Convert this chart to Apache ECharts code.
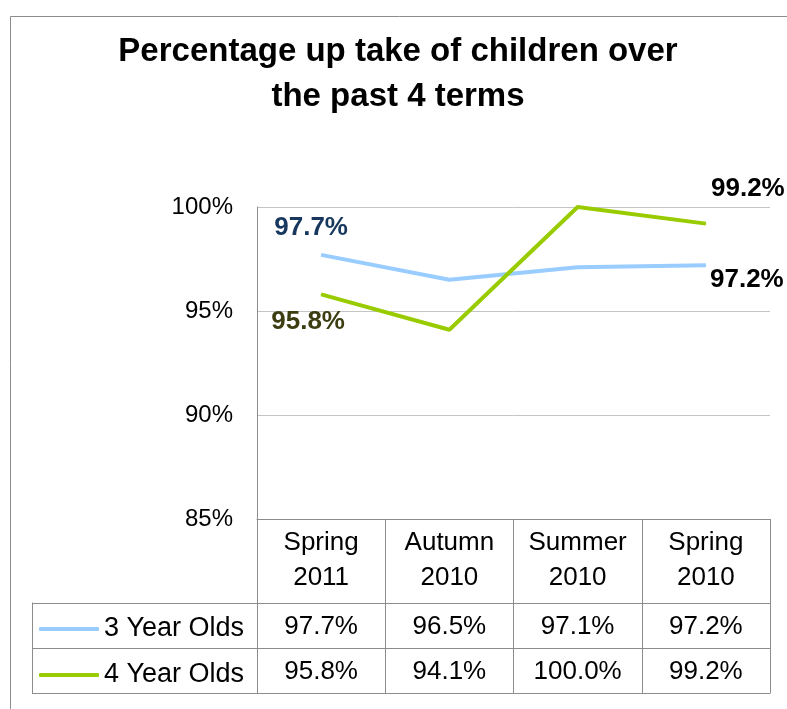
<!DOCTYPE html>
<html>
<head>
<meta charset="utf-8">
<script src="https://cdn.jsdelivr.net/npm/echarts@6/dist/echarts.min.js"></script>
<style>
  html, body { margin: 0; padding: 0; background: #fff; }
  #chart { width: 787px; height: 709px; }
</style>
</head>
<body>
<div id="chart"></div>
<script>
// terms, newest first as in the source table
const terms = ['Spring\n2011', 'Autumn\n2010', 'Summer\n2010', 'Spring\n2010']
const threeYearOlds = [97.7, 96.5, 97.1, 97.2]
const fourYearOlds = [95.8, 94.1, 100.0, 99.2]
const rowNames = ['3 Year Olds', '4 Year Olds']
const yMin = 85
const yMax = 100
const yStep = 5

const font = "'Liberation Sans', Arial, sans-serif"
const border = '#8c8c8c'
const pct = v => v.toFixed(1) + '%'

// labels only on first and last point of each line
function lineData(values, first, last) {
  return values.map((v, i) => {
    if (i === 0) return { value: v, label: Object.assign({ show: true }, first) }
    if (i === values.length - 1) return { value: v, label: Object.assign({ show: true }, last) }
    return v
  })
}

const endLabel = {
  position: 'inside',
  fontFamily: font,
  fontSize: 26,
  fontWeight: 'bold',
  formatter: p => pct(p.value)
}

const tableCells = []
threeYearOlds.forEach((v, i) => tableCells.push([terms[i], rowNames[0], v]))
fourYearOlds.forEach((v, i) => tableCells.push([terms[i], rowNames[1], v]))

const chart = echarts.init(document.getElementById('chart'), null, { renderer: 'canvas' })

chart.setOption({
  animation: false,
  title: {
    text: 'Percentage up take of children over\nthe past 4 terms',
    left: 393,
    top: 24,
    textAlign: 'center',
    textStyle: {
      fontFamily: font,
      fontSize: 33,
      fontWeight: 'bold',
      color: '#000',
      lineHeight: 45
    }
  },
  legend: {
    orient: 'vertical',
    left: 39,
    top: 614,
    padding: 0,
    itemWidth: 60,
    itemHeight: 4,
    itemGap: 16,
    icon: 'roundRect',
    selectedMode: false,
    data: rowNames,
    textStyle: { fontFamily: font, fontSize: 27, color: '#000', lineHeight: 30 }
  },
  grid: [
    { left: 257, right: 17, top: 207, height: 312 },
    { left: 257, right: 17, top: 603, height: 90 }
  ],
  xAxis: [{
    gridIndex: 0,
    type: 'category',
    data: terms,
    boundaryGap: true,
    axisLine: { lineStyle: { color: border, width: 1 } },
    axisTick: { show: true, interval: 0, length: 84, lineStyle: { color: border } },
    axisLabel: {
      interval: 0,
      margin: 6,
      fontFamily: font,
      fontSize: 26,
      lineHeight: 35,
      color: '#000'
    },
    splitLine: { show: false }
  }, {
    gridIndex: 1,
    type: 'category',
    data: terms,
    boundaryGap: true,
    axisLine: { lineStyle: { color: border } },
    axisTick: { show: false },
    axisLabel: { show: false },
    splitLine: { show: true, interval: 0, lineStyle: { color: border } }
  }],
  yAxis: [{
    gridIndex: 0,
    type: 'value',
    min: yMin,
    max: yMax,
    interval: yStep,
    axisLine: { show: true, lineStyle: { color: border } },
    axisTick: { show: false },
    axisLabel: {
      margin: 24,
      fontFamily: font,
      fontSize: 24,
      color: '#000',
      formatter: '{value}%'
    },
    splitLine: { lineStyle: { color: '#c4c4c4' } }
  }, {
    gridIndex: 1,
    type: 'category',
    data: rowNames,
    inverse: true,
    axisLine: { show: true, lineStyle: { color: border } },
    axisTick: { show: true, interval: 0, length: 225, lineStyle: { color: border } },
    axisLabel: { show: false },
    splitLine: { show: true, interval: 0, lineStyle: { color: border } }
  }, {
    // left edge of the table's name column
    gridIndex: 1,
    type: 'category',
    data: rowNames,
    position: 'left',
    offset: 225,
    axisLine: { show: true, lineStyle: { color: border } },
    axisTick: { show: false },
    axisLabel: { show: false },
    splitLine: { show: false }
  }],
  graphic: [{
    type: 'rect',
    shape: { x: 10.5, y: 16.5, width: 900, height: 900 },
    style: { fill: 'none', stroke: border, lineWidth: 1 },
    silent: true,
    z: -1
  }],
  series: [{
    name: '3 Year Olds',
    type: 'line',
    xAxisIndex: 0,
    yAxisIndex: 0,
    symbol: 'circle',
    symbolSize: 1,
    showSymbol: true,
    color: '#99ccff',
    lineStyle: { width: 4, color: '#99ccff' },
    data: lineData(threeYearOlds,
      Object.assign({}, endLabel, { color: '#17375e', offset: [-10, -27] }),
      Object.assign({}, endLabel, { color: '#000', offset: [41, 15] }))
  }, {
    name: '4 Year Olds',
    type: 'line',
    xAxisIndex: 0,
    yAxisIndex: 0,
    symbol: 'circle',
    symbolSize: 1,
    showSymbol: true,
    color: '#99cc00',
    lineStyle: { width: 4, color: '#99cc00' },
    data: lineData(fourYearOlds,
      Object.assign({}, endLabel, { color: '#3d3d12', offset: [-13, 27] }),
      Object.assign({}, endLabel, { color: '#000', offset: [42, -35] }))
  }, {
    name: 'table',
    type: 'scatter',
    xAxisIndex: 1,
    yAxisIndex: 1,
    symbolSize: 1,
    itemStyle: { color: 'rgba(0,0,0,0)', opacity: 1 },
    label: {
      show: true,
      position: 'inside',
      offset: [0, 1],
      fontFamily: font,
      fontSize: 26,
      color: '#000',
      opacity: 1,
      formatter: p => pct(p.value[2])
    },
    data: tableCells
  }]
})
</script>
</body>
</html>
